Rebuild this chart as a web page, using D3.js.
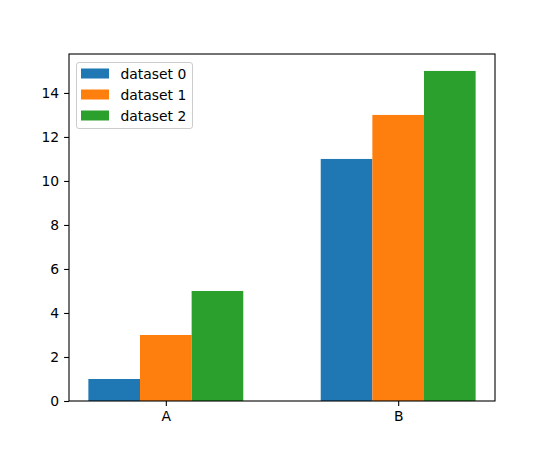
<!DOCTYPE html>
<meta charset="utf-8">
<style>
body { margin: 0; background: #fff; }
text { font-family: "DejaVu Sans", sans-serif; }
</style>
<svg width="550" height="450"></svg>
<script src="https://cdn.jsdelivr.net/npm/d3@7"></script>
<script>
// chart data
var categories = ["A", "B"];
var seriesNames = ["dataset 0", "dataset 1", "dataset 2"];
var dataset0 = [1, 11];
var dataset1 = [3, 13];
var dataset2 = [5, 15];
var yTicks = [0, 2, 4, 6, 8, 10, 12, 14];

var series = [dataset0, dataset1, dataset2];
var colors = ["#1f77b4", "#ff7f0e", "#2ca02c"];

var svg = d3.select("svg");
var plotL = 69, plotR = 495, plotT = 54, plotB = 401;
var barW = 2 / 9;
var fs = 13.9;

var x = d3.scaleLinear().domain([-0.4167, 1.4167]).range([plotL, plotR]);
var y = d3.scaleLinear().domain([0, 15.77]).range([plotB, plotT]);

var g = svg.append("g");

series.forEach(function(vals, si) {
  g.selectAll(null)
    .data(vals)
    .enter().append("rect")
      .attr("x", function(d, i) { return x(i + (si - 1.5) * barW); })
      .attr("width", x(barW) - x(0))
      .attr("y", function(d) { return y(d); })
      .attr("height", function(d) { return y(0) - y(d); })
      .attr("fill", colors[si]);
});

// axes
var yAxis = svg.append("g")
    .attr("transform", "translate(" + plotL + ",0)")
    .call(d3.axisLeft(y).tickValues(yTicks).tickSize(4.9).tickPadding(4.9));
var xAxis = svg.append("g")
    .attr("transform", "translate(0," + plotB + ")")
    .call(d3.axisBottom(x).tickValues([0, 1]).tickFormat(function(d) { return categories[d]; }).tickSize(4.9).tickPadding(4.9));
[xAxis, yAxis].forEach(function(a) {
  a.select(".domain").remove();
  a.selectAll("text").attr("font-size", fs).attr("fill", "#000").style("font-family", "DejaVu Sans, sans-serif");
  a.selectAll("line").attr("stroke", "#000").attr("stroke-width", 1.1);
});

svg.append("rect")
    .attr("x", plotL).attr("y", plotT)
    .attr("width", plotR - plotL).attr("height", plotB - plotT)
    .attr("fill", "none").attr("stroke", "#000").attr("stroke-width", 1.1);

// legend
var lg = svg.append("g").attr("transform", "translate(76.5,62.5)");
lg.append("rect")
    .attr("width", 116).attr("height", 66).attr("rx", 2.5)
    .attr("fill", "#fff").attr("fill-opacity", 0.8)
    .attr("stroke", "#ccc").attr("stroke-width", 1);
seriesNames.forEach(function(name, i) {
  var row = lg.append("g").attr("transform", "translate(0," + (11 + i * 21) + ")");
  row.append("rect").attr("x", 4.5).attr("y", -5).attr("width", 28).attr("height", 10).attr("fill", colors[i]);
  row.append("text").attr("x", 44).attr("y", 5).attr("font-size", fs).attr("fill", "#000").text(name);
});
</script>
